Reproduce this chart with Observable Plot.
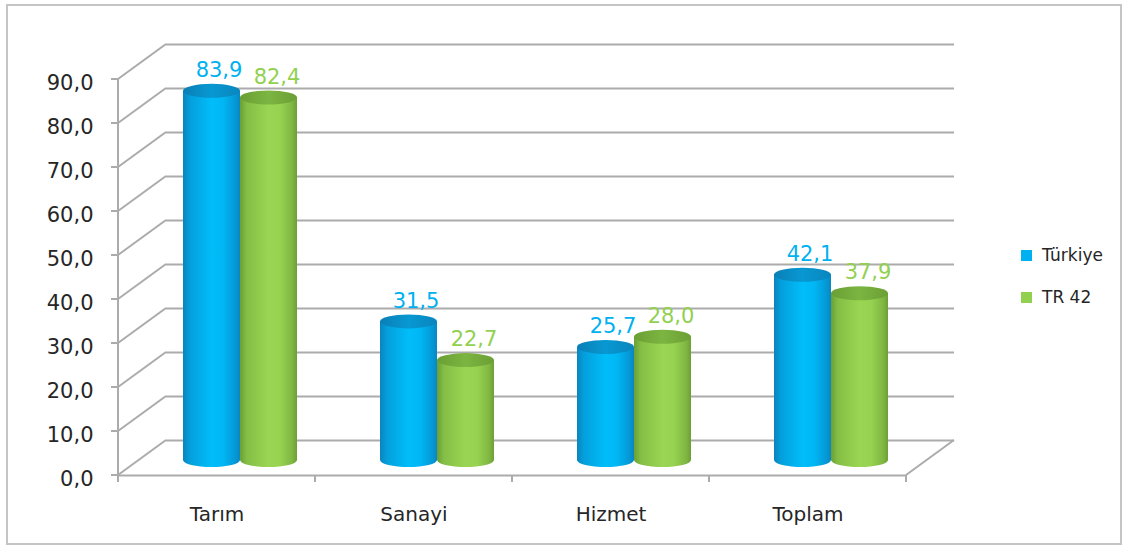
<!DOCTYPE html>
<html>
<head>
<meta charset="utf-8">
<script src="https://cdn.jsdelivr.net/npm/d3@7"></script>
<script src="https://cdn.jsdelivr.net/npm/@observablehq/plot@0.6"></script>
<style>
  html, body { margin: 0; padding: 0; background: #fff; }
  #wrap { position: relative; width: 1126px; height: 547px; overflow: hidden; font-family: "DejaVu Sans", Verdana, sans-serif; }
  #border { position: absolute; left: 6px; top: 4px; width: 1112px; height: 537px; border: 2px solid #c4c4c4; pointer-events: none; }
  .leg { position: absolute; left: 1021px; display: flex; align-items: center; font-size: 17px; color: #262626; height: 20px; }
  .leg span.sw { width: 11px; height: 11px; margin-right: 10px; display: inline-block; }
</style>
</head>
<body>
<div id="wrap">
  <div id="chart"></div>
  <div id="border"></div>
  <div id="legend"></div>
</div>
<script>
// ---- data ----
const categories = ["Tarım", "Sanayi", "Hizmet", "Toplam"];
const seriesNames = ["Türkiye", "TR 42"];
const turkiye = [83.9, 31.5, 25.7, 42.1];
const tr42 = [82.4, 22.7, 28.0, 37.9];
const yTicks = [0, 10, 20, 30, 40, 50, 60, 70, 80, 90];
const seriesColors = ["#00B0F0", "#92D050"];

const fmt = v => v.toFixed(1).replace(".", ",");

const rowsT = categories.map((c, i) => ({category: c, series: seriesNames[0], value: turkiye[i]}));
const rowsG = categories.map((c, i) => ({category: c, series: seriesNames[1], value: tr42[i]}));

// ---- geometry / style constants ----
const DX = 48, DY = -35;      // 3D depth offset of the back wall
const BAR_DY = -15;           // cylinders sit a bit behind the front plane
const GRID = "#ababab";
const CAP = 7;                // ellipse half-height
const RX = 28.5;              // ellipse half-width

// gradients
function defsMark() {
  const defs = d3.create("svg:defs");
  const mk = (id, stops) => {
    const g = defs.append("linearGradient").attr("id", id).attr("x1", 0).attr("x2", 1).attr("y1", 0).attr("y2", 0);
    stops.forEach(([o, c]) => g.append("stop").attr("offset", o).attr("stop-color", c));
  };
  mk("gBlue", [[0, "#0a84bd"], [0.12, "#049fdc"], [0.5, "#00bdf9"], [0.7, "#00b7f4"], [0.92, "#0598d6"], [1, "#0a86c0"]]);
  mk("gBlueTop", [[0, "#0a7fb6"], [0.5, "#0898d2"], [1, "#0a85bd"]]);
  mk("gGreen", [[0, "#6a9f36"], [0.12, "#84be45"], [0.5, "#9ad653"], [0.7, "#97d350"], [0.92, "#7fb642"], [1, "#6c9f36"]]);
  mk("gGreenTop", [[0, "#6a9f34"], [0.5, "#7cb541"], [1, "#6b9f35"]]);
  return defs.node();
}

// front-left axis line, ticks, side-wall diagonals, floor edge, category ticks
function wallMark(index, scales, values, dims) {
  const g = d3.create("svg:g").attr("stroke", GRID).attr("stroke-width", 2).attr("fill", "none");
  const y = scales.y, x = scales.x;
  const L = dims.marginLeft, R = dims.width - dims.marginRight;
  for (const v of yTicks) {
    g.append("line").attr("x1", L).attr("y1", y(v)).attr("x2", L + DX).attr("y2", y(v) + DY);
    g.append("line").attr("x1", L - 7).attr("y1", y(v)).attr("x2", L).attr("y2", y(v));
  }
  g.append("line").attr("x1", L).attr("y1", y(0)).attr("x2", L).attr("y2", y(yTicks[yTicks.length - 1]));
  g.append("line").attr("x1", R).attr("y1", y(0)).attr("x2", R + DX).attr("y2", y(0) + DY);
  const edges = categories.map(c => x(c)).concat([R]);
  for (const e of edges) {
    g.append("line").attr("x1", e).attr("y1", y(0)).attr("x2", e).attr("y2", y(0) + 7);
  }
  return g.node();
}

function cylinder(rows, L, R, grad, topGrad) {
  const common = {x: "category", insetLeft: L, insetRight: R, dy: BAR_DY};
  return [
    Plot.barY(rows, {...common, y1: () => 0, y2: () => 0, insetTop: -CAP, insetBottom: -CAP, rx: RX, ry: CAP, fill: grad}),
    Plot.barY(rows, {...common, y1: () => 0, y2: "value", fill: grad}),
    Plot.barY(rows, {...common, y1: "value", y2: "value", insetTop: -CAP, insetBottom: -CAP, rx: RX, ry: CAP, fill: topGrad})
  ];
}

const chart = Plot.plot({
  width: 1126,
  height: 547,
  marginLeft: 118,
  marginRight: 220,
  marginTop: 79,
  marginBottom: 72,
  style: {fontFamily: "DejaVu Sans, Verdana, sans-serif", fontSize: "21px", color: "#262626", background: "transparent", overflow: "visible"},
  x: {domain: categories, padding: 0},
  y: {domain: [0, 90]},
  marks: [
    defsMark,
    Plot.ruleY(yTicks, {dx: DX, dy: DY, stroke: GRID, strokeWidth: 2}),
    Plot.ruleY([0], {stroke: GRID, strokeWidth: 2}),
    wallMark,
    ...cylinder(rowsT, 65, 75, "url(#gBlue)", "url(#gBlueTop)"),
    ...cylinder(rowsG, 122, 18, "url(#gGreen)", "url(#gGreenTop)"),
    Plot.text(rowsT, {x: "category", y: "value", text: d => fmt(d.value), fill: seriesColors[0], dx: 2, dy: BAR_DY - 21, fontSize: 21}),
    Plot.text(rowsG, {x: "category", y: "value", text: d => fmt(d.value), fill: seriesColors[1], dx: 60, dy: BAR_DY - 21, fontSize: 21}),
    Plot.axisY(yTicks, {tickFormat: fmt, tickSize: 0, tickPadding: 25, dy: 4, fontSize: 21, label: null}),
    Plot.axisX({tickSize: 0, tickPadding: 31, fontSize: 20, label: null})
  ]
});
document.getElementById("chart").appendChild(chart);

// legend
const legend = document.getElementById("legend");
const legendTops = [245, 287];
seriesNames.forEach((s, i) => {
  const item = document.createElement("div");
  item.className = "leg";
  item.style.top = legendTops[i] + "px";
  const sw = document.createElement("span");
  sw.className = "sw";
  sw.style.background = seriesColors[i];
  item.appendChild(sw);
  item.appendChild(document.createTextNode(s));
  legend.appendChild(item);
});
</script>
</body>
</html>
